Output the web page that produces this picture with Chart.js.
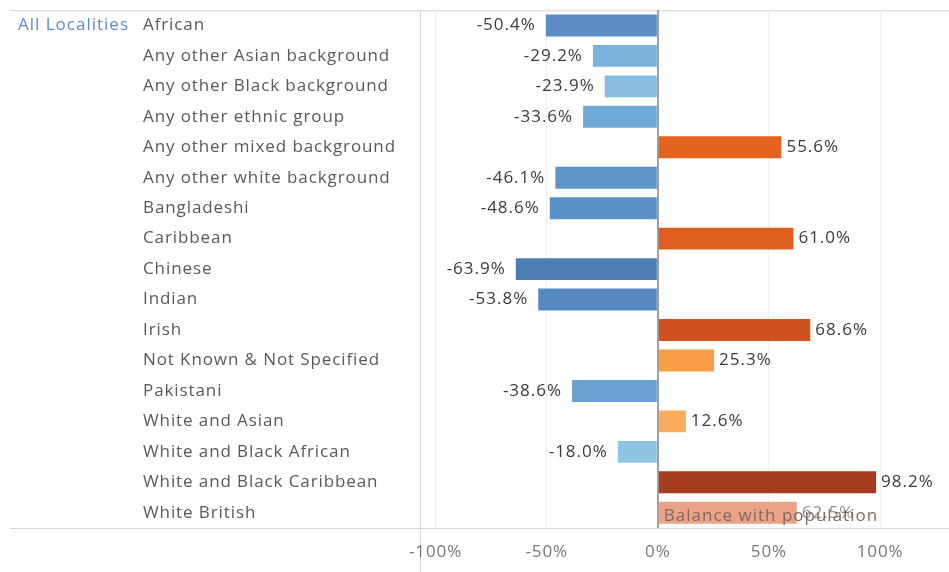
<!DOCTYPE html>
<html>
<head>
<meta charset="utf-8">
<script src="https://cdn.jsdelivr.net/npm/chart.js@4.4.1/dist/chart.umd.min.js"></script>
<style>
html,body{margin:0;padding:0;background:#fff;}
#wrap{position:relative;width:949px;height:572px;}
</style>
</head>
<body>
<div id="wrap"><canvas id="c" width="949" height="572"></canvas></div>
<script>
const groupLabel = "All Localities";
const categories = [
  "African",
  "Any other Asian background",
  "Any other Black background",
  "Any other ethnic group",
  "Any other mixed background",
  "Any other white background",
  "Bangladeshi",
  "Caribbean",
  "Chinese",
  "Indian",
  "Irish",
  "Not Known & Not Specified",
  "Pakistani",
  "White and Asian",
  "White and Black African",
  "White and Black Caribbean",
  "White British"
];
const values = [-50.4, -29.2, -23.9, -33.6, 55.6, -46.1, -48.6, 61.0, -63.9, -53.8, 68.6, 25.3, -38.6, 12.6, -18.0, 98.2, 62.5];
const xTicks = [-100, -50, 0, 50, 100];
const annotationText = "Balance with population";

const barColors = [
  "#5b8ec4", "#7bb2dc", "#86bce0", "#6fa9d7", "#e3631f", "#5e94c8", "#5a90c6",
  "#df5e1f", "#4b7fb4", "#5689c0", "#d0531f", "#f89d45", "#6aa3d3", "#f9ad5c",
  "#8ec4e4", "#a53b1f", "#eca286"
];

const FONT = "'Open Sans', 'Noto Sans', sans-serif";

const decor = {
  id: 'decor',
  beforeLayout(chart) { chart.ctx.letterSpacing = '0.9px'; },
  beforeDraw(chart) {
    const ctx = chart.ctx, a = chart.chartArea;
    ctx.letterSpacing = '0.9px';
    ctx.save();
    ctx.strokeStyle = '#d4d4d4';
    ctx.lineWidth = 1;
    ctx.beginPath();
    ctx.moveTo(10, a.top + 0.5); ctx.lineTo(chart.width, a.top + 0.5);
    ctx.moveTo(10, a.bottom + 0.5); ctx.lineTo(chart.width, a.bottom + 0.5);
    ctx.moveTo(a.left + 0.5, a.top); ctx.lineTo(a.left + 0.5, chart.height);
    ctx.stroke();
    ctx.restore();
  },
  afterDatasetsDraw(chart) {
    const ctx = chart.ctx;
    const meta = chart.getDatasetMeta(0);
    const ys = chart.scales.y, xs = chart.scales.x;
    ctx.save();
    ctx.letterSpacing = '1px';
    ctx.font = "17px " + FONT;
    ctx.textBaseline = 'middle';
    meta.data.forEach((bar, i) => {
      const v = values[i];
      const txt = v.toFixed(1) + '%';
      const last = i === values.length - 1;
      ctx.fillStyle = last ? '#8f8f8f' : '#3a3a3a';
      if (v < 0) { ctx.textAlign = 'right'; ctx.fillText(txt, bar.x - 10, bar.y); }
      else { ctx.textAlign = 'left'; ctx.fillText(txt, bar.x + 5, bar.y); }
    });
    // group label
    ctx.textAlign = 'left';
    ctx.fillStyle = '#5a8dc6';
    ctx.fillText(groupLabel, 18, ys.getPixelForValue(0));
    // annotation over last row
    const lastY = ys.getPixelForValue(values.length - 1) + 3;
    ctx.fillStyle = '#7f6a60';
    ctx.fillText(annotationText, xs.getPixelForValue(0) + 6, lastY);
    ctx.restore();
  }
};

new Chart(document.getElementById('c'), {
  type: 'bar',
  data: {
    labels: categories,
    datasets: [{
      data: values,
      backgroundColor: barColors,
      barPercentage: 0.72,
      categoryPercentage: 1.0,
      borderWidth: 0
    }]
  },
  options: {
    indexAxis: 'y',
    responsive: false,
    animation: false,
    devicePixelRatio: 1,
    layout: { padding: { left: 143, top: 8, right: 0, bottom: 0 } },
    plugins: { legend: { display: false }, tooltip: { enabled: false } },
    scales: {
      x: {
        min: -107,
        max: 131,
        afterFit(scale) { scale.height = 44; },
        afterBuildTicks(scale) { scale.ticks = xTicks.map(v => ({ value: v })); },
        ticks: {
          includeBounds: false,
          callback: v => v + '%',
          color: '#777',
          font: { family: FONT, size: 17 },
          padding: 14,
          maxRotation: 0
        },
        grid: {
          drawTicks: false,
          color: ctx => (ctx.tick && ctx.tick.value === 0) ? '#a0a0a0' : '#efefef',
          lineWidth: ctx => (ctx.tick && ctx.tick.value === 0) ? 2 : 1
        },
        border: { display: false }
      },
      y: {
        afterFit(scale) { scale.width = 420 - 143; },
        ticks: {
          crossAlign: 'far',
          color: '#595959',
          font: { family: FONT, size: 17 },
          padding: 0,
          autoSkip: false
        },
        grid: { display: false, drawTicks: false },
        border: { display: false }
      }
    }
  },
  plugins: [decor]
});
</script>
</body>
</html>
